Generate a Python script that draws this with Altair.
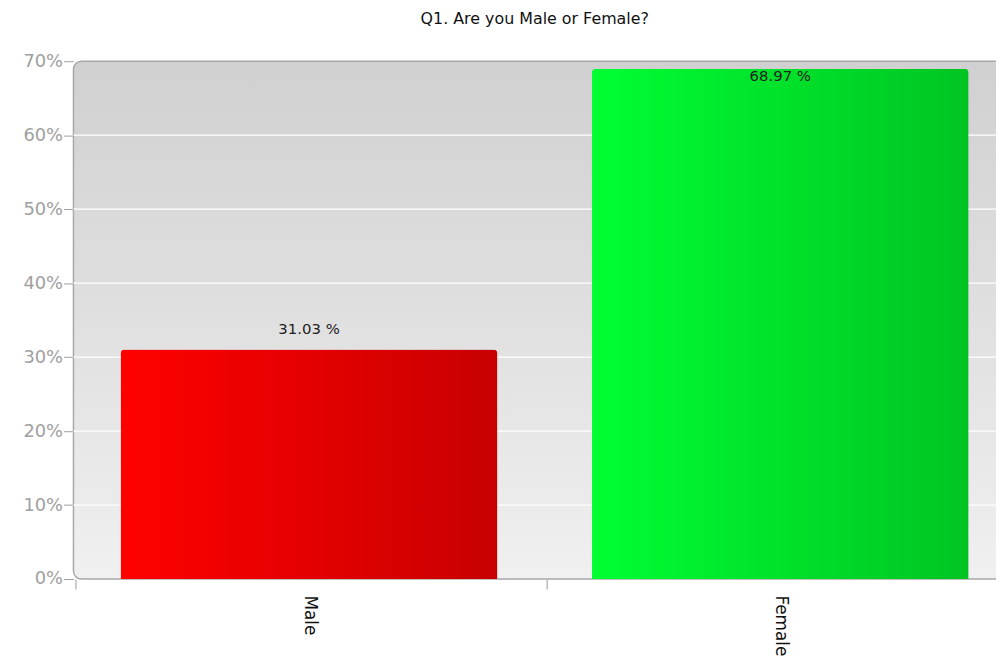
import altair as alt
import pandas as pd

categories = ["Male", "Female"]
values = [31.03, 68.97]
y_ticks = [0, 10, 20, 30, 40, 50, 60, 70]

df = pd.DataFrame({"gender": categories, "pct": values})
ticks_df = pd.DataFrame({"t": y_ticks})

W, H = 930, 522
XR = 950
STEP = 471

x_enc = alt.X("gender:N", sort=categories, title=None,
              scale=alt.Scale(paddingInner=0.2, paddingOuter=0.1, range=[0, XR]),
              axis=alt.Axis(labelAngle=90, labelAlign="left", labelBaseline="middle",
                            labelFontSize=17, labelColor="#111", labelPadding=6,
                            tickOffset=-STEP / 2, labelOffset=STEP / 2,
                            tickColor="#999", tickSize=10,
                            domain=False, grid=False, labelFont="DejaVu Sans"))
y_scale = alt.Scale(domain=[0, 70], nice=False)
y_enc = alt.Y("pct:Q", title=None, scale=y_scale,
              axis=alt.Axis(values=y_ticks, labelExpr="datum.value + '%'",
                            labelColor="#a0a0a0", labelFontSize=18, labelPadding=1,
                            tickColor="#a0a0a0", tickSize=10, domain=False,
                            grid=False, labelFont="DejaVu Sans"))

def grad(c1, c2, vertical=False):
    if vertical:
        return alt.Gradient(gradient="linear", x1=0, x2=0, y1=0, y2=1,
                            stops=[alt.GradientStop(color=c1, offset=0),
                                   alt.GradientStop(color=c2, offset=1)])
    return alt.Gradient(gradient="linear", x1=0, x2=1, y1=0, y2=0,
                        stops=[alt.GradientStop(color=c1, offset=0),
                               alt.GradientStop(color=c2, offset=1)])

bg = alt.Chart(pd.DataFrame({"a": [0]})).mark_rect(
    fill=grad("#d0d0d0", "#f0f0f0", vertical=True), stroke="#a8a8a8",
    strokeWidth=1.5, cornerRadius=8
).encode(x=alt.value(0), x2=alt.value(W + 30), y=alt.value(0), y2=alt.value(H))

grid = alt.Chart(ticks_df).transform_filter(
    (alt.datum.t > 0) & (alt.datum.t < 70)
).mark_rule(color="#ffffff", strokeWidth=1.2).encode(
    y=alt.Y("t:Q", scale=y_scale)
)

male = alt.Chart(df).transform_filter(alt.datum.gender == "Male").mark_bar(
    color=grad("#ff0000", "#c80000"), cornerRadiusTopLeft=4, cornerRadiusTopRight=4
).encode(x=x_enc, y=y_enc)

female = alt.Chart(df).transform_filter(alt.datum.gender == "Female").mark_bar(
    color=grad("#00ff33", "#00c422"), cornerRadiusTopLeft=4, cornerRadiusTopRight=4
).encode(x=x_enc, y=y_enc)

labels = alt.Chart(df).transform_calculate(
    lab="format(datum.pct, '.2f') + ' %'",
    ly="min(datum.pct + 2.8, 68.0)"
).mark_text(fontSize=15, color="#222", font="DejaVu Sans", baseline="middle").encode(
    x=alt.X("gender:N", sort=categories),
    y=alt.Y("ly:Q", scale=y_scale),
    text="lab:N"
)

chart = alt.layer(bg, grid, male, female, labels).properties(
    width=W, height=H,
    title=alt.TitleParams("Q1. Are you Male or Female?", fontSize=16, fontWeight="normal",
                          font="DejaVu Sans", color="#111", anchor="middle", offset=26),
    autosize=alt.AutoSizeParams(type="none"),
    padding={"left": 66, "top": 51, "right": 0, "bottom": 81}
).configure_view(stroke=None, clip=False)

chart.save("out.html", embed_options={"renderer": "svg", "actions": False})
